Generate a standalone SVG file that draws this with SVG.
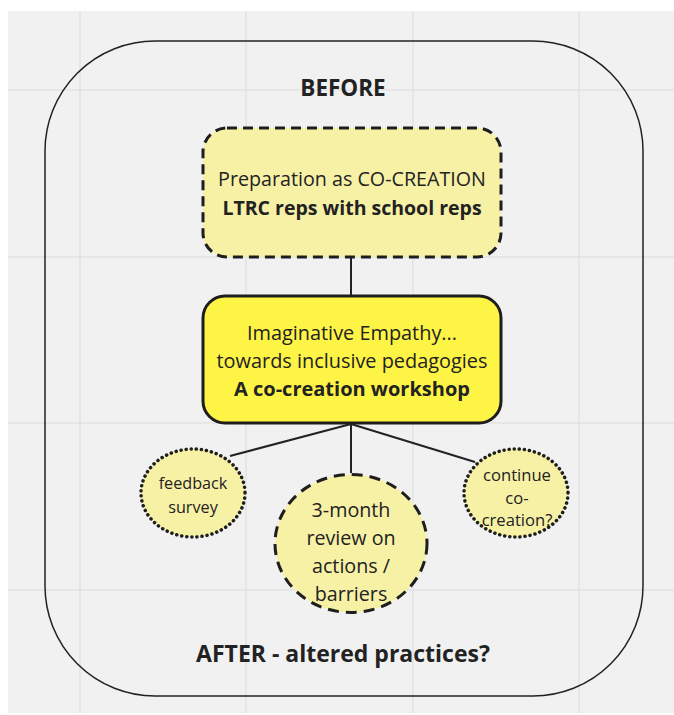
<svg xmlns="http://www.w3.org/2000/svg" width="674" height="715" viewBox="0 0 674 715">
<style>
.t{font-family:"Open Sans","Noto Sans","Liberation Sans",sans-serif;fill:#222;text-anchor:middle;dominant-baseline:central}
.b{font-weight:bold}
.grid{stroke:#e2e2e2;stroke-width:1.5}
.conn{stroke:#222;stroke-width:2;fill:none}
.pale{fill:#f7f1a6;stroke:#1e1e1e}
</style>
<rect x="0" y="0" width="674" height="715" fill="#ffffff"/>
<rect x="8" y="11" width="666" height="702" fill="#f1f1f1"/>
<g id="grid">
<line class="grid" x1="80" y1="11" x2="80" y2="713"/>
<line class="grid" x1="246" y1="11" x2="246" y2="713"/>
<line class="grid" x1="413" y1="11" x2="413" y2="713"/>
<line class="grid" x1="579" y1="11" x2="579" y2="713"/>
<line class="grid" x1="8" y1="90" x2="674" y2="90"/>
<line class="grid" x1="8" y1="257" x2="674" y2="257"/>
<line class="grid" x1="8" y1="423" x2="674" y2="423"/>
<line class="grid" x1="8" y1="590" x2="674" y2="590"/>
</g>
<g id="frame">
<rect x="45" y="41" width="598" height="655" rx="110" ry="110" fill="none" stroke="#222" stroke-width="1.5"/>
<text class="t b" x="343" y="87" font-size="22.5">BEFORE</text>
<text class="t b" x="343" y="653" font-size="23">AFTER - altered practices?</text>
</g>
<g id="connectors">
<line class="conn" x1="351" y1="257" x2="351" y2="296"/>
<line class="conn" x1="351" y1="424" x2="230" y2="456"/>
<line class="conn" x1="351" y1="424" x2="351" y2="473"/>
<line class="conn" x1="351" y1="424" x2="475" y2="462"/>
</g>
<g id="prep">
<rect class="pale" x="203" y="128" width="298" height="129" rx="24" stroke-width="3" stroke-dasharray="10 6"/>
<text class="t" x="352" y="178" font-size="19.7">Preparation as CO-CREATION</text>
<text class="t b" x="352" y="207" font-size="19.5">LTRC reps with school reps</text>
</g>
<g id="workshop">
<rect x="203" y="296" width="298" height="127" rx="22" fill="#fef445" stroke="#1e1e1e" stroke-width="3"/>
<text class="t" x="352" y="332" font-size="19.9">Imaginative Empathy...</text>
<text class="t" x="352" y="360" font-size="19.9">towards inclusive pedagogies</text>
<text class="t b" x="352" y="388" font-size="20">A co-creation workshop</text>
</g>
<g id="feedback">
<ellipse class="pale" cx="193" cy="493" rx="52" ry="44" stroke-width="3.5" stroke-dasharray="0.1 5" stroke-linecap="round"/>
<text class="t" x="193" y="483" font-size="16.2">feedback</text>
<text class="t" x="193" y="507" font-size="16.2">survey</text>
</g>
<g id="review">
<ellipse class="pale" cx="351" cy="543.5" rx="76" ry="69" stroke-width="3" stroke-dasharray="11 7"/>
<text class="t" x="351" y="509" font-size="19.7">3-month</text>
<text class="t" x="351" y="537" font-size="19.7">review on</text>
<text class="t" x="351" y="565" font-size="19.7">actions /</text>
<text class="t" x="351" y="593" font-size="19.7">barriers</text>
</g>
<g id="continue">
<ellipse class="pale" cx="516" cy="493" rx="52" ry="44" stroke-width="3.5" stroke-dasharray="0.1 5" stroke-linecap="round"/>
<text class="t" x="517" y="474" font-size="16.6">continue</text>
<text class="t" x="517" y="497" font-size="16.6">co-</text>
<text class="t" x="517" y="519" font-size="16.6">creation?</text>
</g>
</svg>
